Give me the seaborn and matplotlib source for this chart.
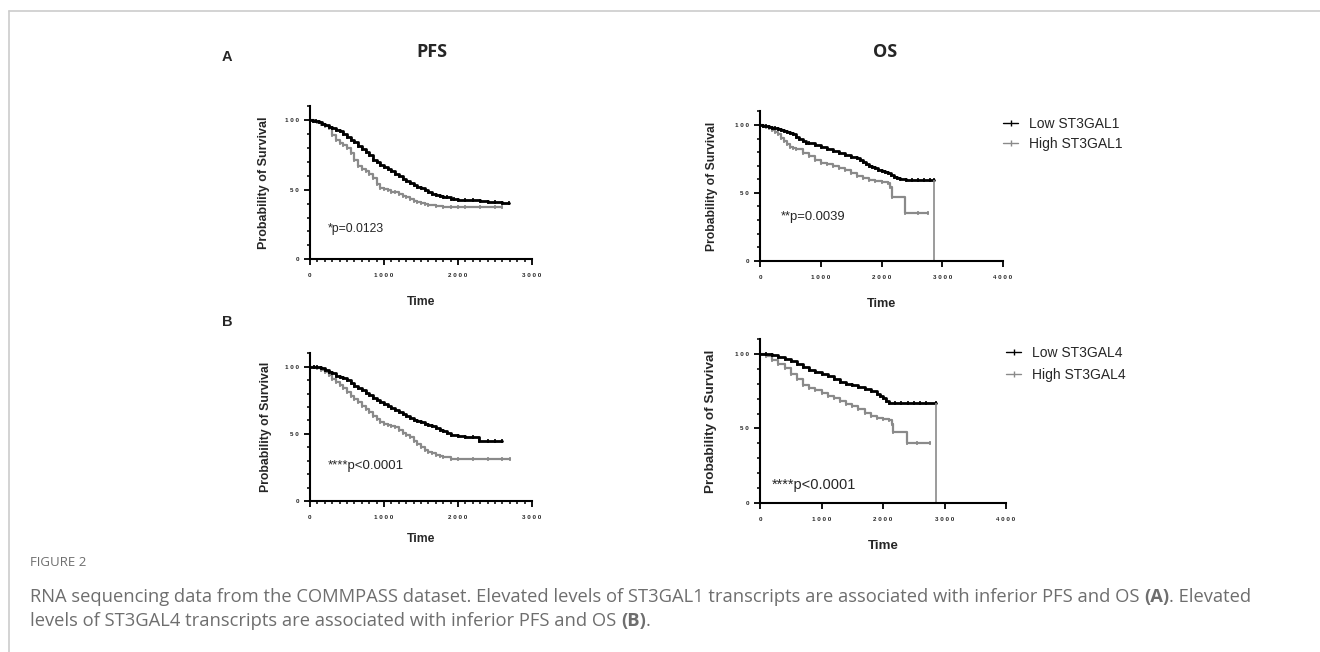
import matplotlib
matplotlib.use("Agg")
import matplotlib.pyplot as plt
from matplotlib.lines import Line2D
from matplotlib.ticker import MultipleLocator
import seaborn as sns
import pandas as pd

# Panel A, PFS (ST3GAL1) - survival in %, time in days
pfs_a_low_t = [0, 40, 80, 120, 160, 200, 250, 300, 350, 400, 450, 500, 550, 600, 650, 700, 750, 800,
               850, 900, 950, 1000, 1050, 1100, 1150, 1200, 1250, 1300, 1350, 1400, 1450, 1500, 1550,
               1600, 1650, 1700, 1750, 1800, 1850, 1900, 1950, 2000, 2100, 2200, 2300, 2400, 2500, 2600, 2690]
pfs_a_low_s = [100, 99.5, 99, 98.5, 97.5, 96.5, 95, 94, 93, 92, 90, 88, 86, 84, 81.5, 79, 77, 75,
               71, 70, 68, 66.5, 65, 63.5, 61.5, 59.5, 58, 56, 54.5, 53, 52, 51, 50,
               48.5, 47, 46, 45.5, 45, 44.5, 43.5, 43, 42.6, 42.5, 42.3, 42, 41.5, 41, 40.7, 40.7]
pfs_a_high_t = [0, 50, 100, 150, 200, 250, 300, 350, 400, 450, 500, 550, 600, 650, 700, 750, 800, 850,
                900, 950, 1000, 1050, 1100, 1150, 1200, 1250, 1300, 1350, 1400, 1450, 1500, 1550, 1600,
                1700, 1800, 1900, 2000, 2100, 2300, 2500, 2600]
pfs_a_high_s = [100, 99, 98.5, 97, 95.5, 94, 89, 86, 83.5, 82, 80, 76, 71.5, 67, 65, 63.5, 61.5, 58.5,
                54, 51.5, 50.5, 49.5, 48.5, 48, 47, 45.5, 44.5, 43, 42, 41, 40.2, 39.5, 39,
                38.5, 37.8, 37.5, 37.5, 37.3, 37.3, 37.3, 37.3]

# Panel A, OS (ST3GAL1)
os_a_low_t = [0, 50, 100, 150, 200, 250, 300, 350, 400, 450, 500, 550, 600, 650, 700, 750, 800, 900,
              1000, 1100, 1200, 1300, 1400, 1500, 1600, 1650, 1700, 1750, 1800, 1850, 1900, 1950, 2000,
              2050, 2100, 2150, 2200, 2250, 2300, 2400, 2500, 2600, 2700, 2800, 2860]
os_a_low_s = [100, 99.5, 99, 98.5, 98, 97.5, 97, 96, 95.5, 95, 94.3, 93, 91.5, 90, 88, 87, 86.5, 85.5,
              84, 82.5, 80.5, 79, 78, 76.5, 75.5, 74.5, 73, 71, 70, 69, 68, 67, 66,
              65, 64.5, 63, 62, 61, 60, 59.5, 59.5, 59.5, 59.5, 59.5, 59.5]
os_a_high_t = [0, 50, 100, 150, 200, 250, 300, 350, 400, 450, 500, 550, 600, 700, 800, 900, 1000, 1100,
               1200, 1300, 1400, 1500, 1600, 1700, 1800, 1900, 2000, 2100, 2140, 2170, 2390, 2600, 2760]
os_a_high_s = [100, 99, 98.5, 97.5, 96.5, 95, 93, 90.5, 88, 86, 84, 83, 82, 79.5, 77, 74, 72, 71,
               70, 68, 66.5, 64.5, 62.5, 61, 59.5, 58.5, 58, 57, 54.5, 46.7, 34.9, 34.9, 34.9]

# Panel B, PFS (ST3GAL4)
pfs_b_low_t = [0, 50, 100, 150, 200, 250, 300, 350, 400, 450, 500, 550, 600, 650, 700, 750, 800, 850,
               900, 950, 1000, 1050, 1100, 1150, 1200, 1250, 1300, 1350, 1400, 1450, 1500, 1550, 1600,
               1650, 1700, 1750, 1800, 1850, 1900, 2000, 2100, 2200, 2290, 2400, 2500, 2600]
pfs_b_low_s = [100, 100, 99.5, 99, 97.5, 96, 95, 93, 92.5, 91.5, 90, 88, 86, 84, 82.5, 80.5, 79, 77,
               75, 73.5, 72, 70.5, 69, 67.5, 66, 65, 63, 62, 60.5, 59.8, 59, 57.5, 56.5,
               55.5, 54.5, 53, 52, 50.5, 49.5, 48.5, 48, 47.5, 45, 45, 45, 45]
pfs_b_high_t = [0, 50, 100, 150, 200, 250, 300, 350, 400, 450, 500, 550, 600, 650, 700, 750, 800, 850,
                900, 950, 1000, 1050, 1100, 1150, 1200, 1250, 1300, 1350, 1400, 1450, 1500, 1550, 1600,
                1650, 1700, 1750, 1800, 1900, 2000, 2200, 2400, 2600, 2700]
pfs_b_high_s = [100, 99.5, 99, 97.5, 96, 94, 91, 88.5, 86.5, 84, 81.5, 78.5, 76, 74, 71, 68.5, 66, 63.5,
                61, 59, 57.5, 56.5, 56, 55, 53, 51, 49, 47.5, 45, 42.5, 40, 38, 36.5,
                35.5, 34.5, 33.5, 32.5, 31.5, 31, 31, 31, 31, 31]

# Panel B, OS (ST3GAL4)
os_b_low_t = [0, 100, 200, 300, 400, 500, 600, 700, 800, 900, 1000, 1100, 1200, 1300, 1400, 1500, 1600,
              1700, 1800, 1900, 1950, 2000, 2050, 2100, 2200, 2300, 2400, 2500, 2600, 2700, 2860]
os_b_low_s = [100, 100, 99, 97.8, 96.5, 95, 93, 91, 89.5, 88, 86.5, 85, 83, 81, 80, 79.2, 78,
              76.5, 75, 72.8, 71.5, 70.5, 68.5, 66.8, 66.8, 66.8, 66.8, 66.8, 66.8, 66.8, 66.8]
os_b_high_t = [0, 100, 200, 300, 400, 500, 600, 700, 800, 900, 1000, 1100, 1200, 1300, 1400, 1500, 1600,
               1700, 1800, 1900, 2000, 2100, 2140, 2170, 2390, 2550, 2770]
os_b_high_s = [100, 98.5, 96, 93.5, 90.5, 86.5, 83, 79, 77, 75.5, 74, 72, 70.5, 68.5, 66.5, 65, 63,
               60.5, 58.5, 57, 56.5, 55.8, 53, 47.8, 40.3, 40.3, 40.3]

p_texts = ["*p=0.0123", "**p=0.0039", "****p<0.0001", "****p<0.0001"]
legend_a = ["Low ST3GAL1", "High ST3GAL1"]
legend_b = ["Low ST3GAL4", "High ST3GAL4"]
y_ticks = [0, 50, 100]

caption_head = "FIGURE 2"
caption_1 = [("RNA sequencing data from the COMMPASS dataset. Elevated levels of ST3GAL1 transcripts "
              "are associated with inferior PFS and OS ", "normal"), ("(A)", "bold"), (". Elevated", "normal")]
caption_2 = [("levels of ST3GAL4 transcripts are associated with inferior PFS and OS ", "normal"),
             ("(B)", "bold"), (".", "normal")]

BLACK = "#000000"
GRAY = "#8a8a8a"

sns.set_theme(style="ticks")
plt.rcParams["font.family"] = ["Liberation Sans", "DejaVu Sans"]

W, H = 1320, 652
fig = plt.figure(figsize=(W / 100, H / 100), dpi=100)
fig.patch.set_facecolor("white")


def px_axes(left, right, y0, y110):
    return fig.add_axes([left / W, 1 - y0 / H, (right - left) / W, (y0 - y110) / H])


def spaced(v):
    return " ".join(str(v))


def km(ax, low_t, low_s, high_t, high_s, xmax, minor_x, ptxt, ppos, psize, drop=False):
    for t, s, col, lw in [(high_t, high_s, GRAY, 1.6), (low_t, low_s, BLACK, 2.0)]:
        df = pd.DataFrame({"t": t, "s": s})
        sns.lineplot(data=df, x="t", y="s", ax=ax, color=col, lw=lw, drawstyle="steps-post",
                     estimator=None, sort=False, marker="|", markersize=3.5,
                     markeredgewidth=1.2, markeredgecolor=col)
    if drop:
        ax.vlines(low_t[-1], 0, low_s[-1], color=GRAY, lw=1.2)
    ax.set_xlim(0, xmax)
    ax.set_ylim(0, 110)
    xt = list(range(0, xmax + 1, 1000))
    ax.set_xticks(xt)
    ax.set_xticklabels([spaced(v) for v in xt], fontweight="bold", fontsize=4.5)
    ax.set_yticks(y_ticks)
    ax.set_yticklabels([spaced(v) for v in y_ticks], fontweight="bold", fontsize=4.5)
    ax.yaxis.set_minor_locator(MultipleLocator(10))
    if minor_x:
        ax.xaxis.set_minor_locator(MultipleLocator(100))
    ax.tick_params(which="major", length=4, width=1.3, color=BLACK)
    ax.tick_params(which="minor", length=2.5, width=1.1, color=BLACK)
    ax.tick_params(axis="y", which="major", pad=4)
    ax.tick_params(axis="x", which="major", pad=6)
    sns.despine(ax=ax)
    for sp in ["left", "bottom"]:
        ax.spines[sp].set_linewidth(1.5)
        ax.spines[sp].set_color(BLACK)
    ax.set_facecolor("white")
    ax.text(ppos[0], ppos[1], ptxt, transform=ax.transAxes, fontsize=psize, va="center", ha="left")


ax1 = px_axes(310, 532, 259.3, 106.1)
km(ax1, pfs_a_low_t, pfs_a_low_s, pfs_a_high_t, pfs_a_high_s, 3000, True, p_texts[0], (0.081, 0.196), 8.8)
ax2 = px_axes(760, 1003, 260.7, 111.4)
km(ax2, os_a_low_t, os_a_low_s, os_a_high_t, os_a_high_s, 4000, False, p_texts[1], (0.086, 0.293), 9.4, drop=True)
ax3 = px_axes(310, 532, 501.0, 353.3)
km(ax3, pfs_b_low_t, pfs_b_low_s, pfs_b_high_t, pfs_b_high_s, 3000, True, p_texts[2], (0.081, 0.234), 9.5)
ax4 = px_axes(760, 1006, 503.0, 339.0)
km(ax4, os_b_low_t, os_b_low_s, os_b_high_t, os_b_high_s, 4000, False, p_texts[3], (0.049, 0.112), 10.5, drop=True)

# axis labels
for ax, ylx, xly, fs, fx in [(ax1, -0.18, -0.242, 9.0, 8.8), (ax2, -0.173, -0.25, 8.7, 9.2),
                             (ax3, -0.171, -0.217, 8.8, 8.8), (ax4, -0.175, -0.225, 9.7, 9.6)]:
    ax.set_ylabel("Probability of Survival", fontweight="bold", fontsize=fs)
    ax.set_xlabel("Time", fontweight="bold", fontsize=fx)
    ax.yaxis.set_label_coords(ylx, 0.5)
    ax.xaxis.set_label_coords(0.5, xly)

# legends
for labels, x, y, sp in [(legend_a, 1003, 117, 0.45), (legend_b, 1006, 346, 0.58)]:
    handles = [Line2D([], [], color=BLACK, lw=1.0, marker="|", markersize=5),
               Line2D([], [], color=GRAY, lw=1.0, marker="|", markersize=5)]
    fig.legend(handles, labels, loc="upper left", bbox_to_anchor=(x / W, 1 - y / H), frameon=False,
               fontsize=10, handlelength=1.1, handletextpad=0.8, labelspacing=sp,
               borderpad=0, borderaxespad=0, numpoints=1)

# panel letters and column titles
fig.text(222 / W, 1 - 57 / H, "A", fontsize=10.5, fontweight="bold", va="center", ha="left")
fig.text(222 / W, 1 - 322 / H, "B", fontsize=10.5, fontweight="bold", va="center", ha="left")
fig.text(432 / W, 1 - 52 / H, "PFS", fontsize=13, fontweight="bold", family="Open Sans", va="center", ha="center")
fig.text(885 / W, 1 - 52 / H, "OS", fontsize=13, fontweight="bold", family="Open Sans", va="center", ha="center")

# frame lines of the figure box
fig.add_artist(Line2D([9 / W, 1], [1 - 11 / H, 1 - 11 / H], color="#cccccc", lw=1.2, transform=fig.transFigure))
fig.add_artist(Line2D([9 / W, 9 / W], [0, 1 - 11 / H], color="#cccccc", lw=1.2, transform=fig.transFigure))

# caption, sized so the first line spans the width seen in the reference
CAP = "#6e6e6e"
fig.canvas.draw()
renderer = fig.canvas.get_renderer()


def write_line(pieces, x0, yc, size):
    x = x0
    for txt, w in pieces:
        t = fig.text(x / W, 1 - yc / H, txt, fontsize=size, family="Open Sans", fontweight=w,
                     color=CAP, va="center", ha="left")
        x = t.get_window_extent(renderer=renderer).x1
    return x


probe = write_line(caption_1, 30, -100, 10)
cap_size = 10 * (1255 - 30) / (probe - 30)
fig.texts = fig.texts[:-len(caption_1)]

fig.text(30 / W, 1 - 563 / H, caption_head, fontsize=9.5, family="Open Sans", color=CAP, va="center")
write_line(caption_1, 30, 597, cap_size)
write_line(caption_2, 30, 621, cap_size)

fig.savefig("out.png", dpi=100, facecolor="white")
